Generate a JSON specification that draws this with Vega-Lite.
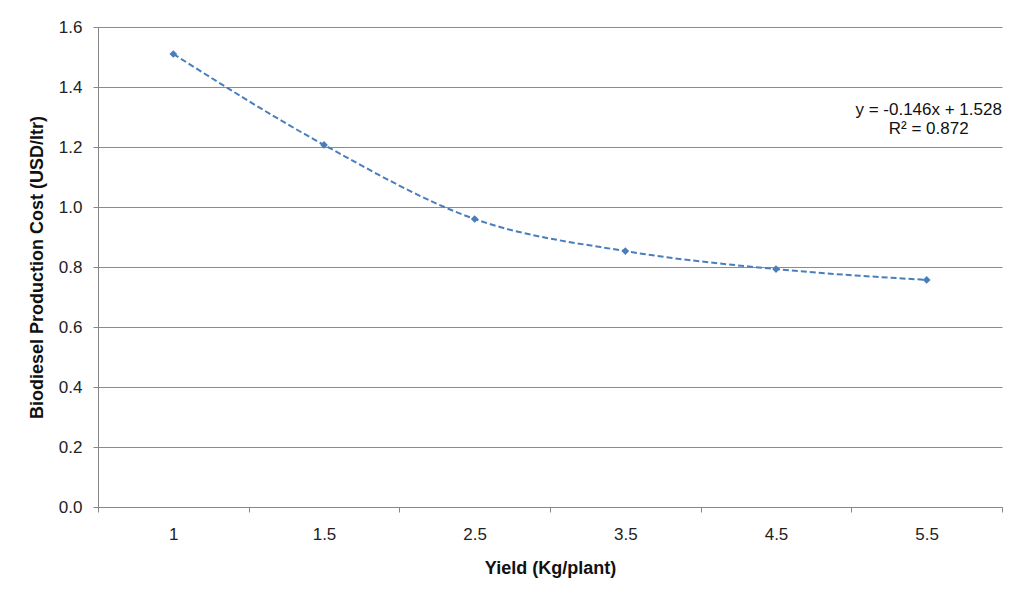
{
  "$schema": "https://vega.github.io/schema/vega-lite/v6.json",
  "width": 904,
  "height": 480,
  "autosize": "none",
  "padding": {"left": 98, "top": 27, "right": 8, "bottom": 84},
  "background": "white",
  "config": {
    "view": {"stroke": null},
    "font": "Liberation Sans",
    "axis": {
      "labelFont": "Liberation Sans",
      "titleFont": "Liberation Sans",
      "labelFontSize": 17,
      "titleFontSize": 18,
      "labelColor": "#222",
      "titleColor": "#111",
      "domainColor": "#868686",
      "tickColor": "#868686",
      "gridColor": "#8c8c8c",
      "tickSize": 5
    }
  },
  "datasets": {
    "main": [
      {"yield": "1", "cost": 1.51},
      {"yield": "1.5", "cost": 1.207},
      {"yield": "2.5", "cost": 0.96},
      {"yield": "3.5", "cost": 0.853},
      {"yield": "4.5", "cost": 0.793},
      {"yield": "5.5", "cost": 0.757}
    ],
    "note": [
      {"yield": "5.5", "cost": 1.307, "label": "y = -0.146x + 1.528\nR² = 0.872"}
    ]
  },
  "encoding": {
    "x": {
      "field": "yield",
      "type": "ordinal",
      "sort": null,
      "bandPosition": 0.5,
      "scale": {"type": "band", "paddingInner": 0, "paddingOuter": 0, "domain": ["1", "1.5", "2.5", "3.5", "4.5", "5.5"]},
      "axis": {
        "title": "Yield (Kg/plant)",
        "labelAngle": 0,
        "tickBand": "extent",
        "labelPadding": 14,
        "grid": false,
        "titleY": 66,
        "titleBaseline": "alphabetic",
        "titleFontWeight": "bold"
      }
    },
    "y": {
      "field": "cost",
      "type": "quantitative",
      "scale": {"domain": [0, 1.6], "nice": false, "zero": true},
      "axis": {
        "title": "Biodiesel Production Cost (USD/ltr)",
        "values": [0, 0.2, 0.4, 0.6, 0.8, 1.0, 1.2, 1.4, 1.6],
        "format": ".1f",
        "labelPadding": 11,
        "grid": true,
        "titleX": -61,
        "titleY": 240,
        "titleAngle": -90,
        "titleAlign": "center",
        "titleBaseline": "middle",
        "titleFontWeight": "bold"
      }
    }
  },
  "layer": [
    {
      "data": {"name": "main"},
      "mark": {"type": "line", "interpolate": "monotone", "color": "#4a7ebb", "strokeWidth": 2, "strokeDash": [6, 3]}
    },
    {
      "data": {"name": "main"},
      "mark": {"type": "point", "shape": "diamond", "filled": true, "color": "#4a7ebb", "size": 60, "opacity": 1}
    },
    {
      "data": {"name": "note"},
      "mark": {"type": "text", "align": "center", "baseline": "alphabetic", "lineBreak": "\n", "lineHeight": 19, "fontSize": 17, "font": "Liberation Sans", "color": "#111", "dx": 2},
      "encoding": {"text": {"field": "label"}}
    }
  ]
}
